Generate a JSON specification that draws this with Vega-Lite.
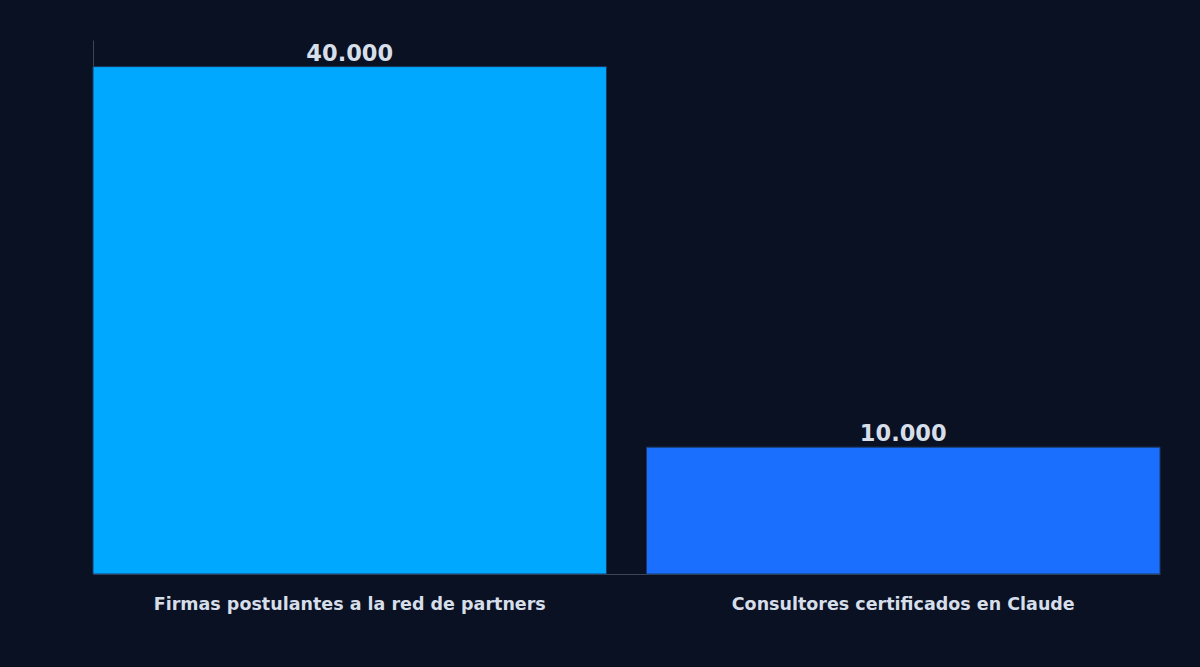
{
  "$schema": "https://vega.github.io/schema/vega-lite/v6.json",
  "width": 1067,
  "height": 534,
  "autosize": {"type": "none"},
  "padding": {"left": 93, "top": 40, "right": 40, "bottom": 93},
  "background": "#0a1122",
  "config": {
    "view": {"stroke": null},
    "locale": {"number": {"decimal": ",", "thousands": ".", "grouping": [3], "currency": ["", " €"]}}
  },
  "data": {"values": [
    {"categoria": "Firmas postulantes a la red de partners", "valor": 40000, "color": "#00a8ff"},
    {"categoria": "Consultores certificados en Claude", "valor": 10000, "color": "#1a6fff"}
  ]},
  "encoding": {
    "x": {"field": "categoria", "type": "nominal", "sort": null,
      "scale": {"paddingInner": 0.0723, "paddingOuter": 0},
      "axis": {"title": null, "labelAngle": 0, "labelFont": "DejaVu Sans", "labelFontSize": 17.5, "labelFontWeight": "bold",
        "labelColor": "#d6deea", "labelPadding": 21, "labelLimit": 0, "ticks": false, "domainColor": "#3b4659", "domainWidth": 1}},
    "y": {"field": "valor", "type": "quantitative", "scale": {"domain": [0, 42100], "nice": false},
      "axis": {"title": null, "labels": false, "ticks": false, "grid": false, "domainColor": "#3b4659", "domainWidth": 1}}
  },
  "layer": [
    {"mark": {"type": "bar", "stroke": "#1b3a66", "strokeWidth": 1},
     "encoding": {"color": {"field": "color", "type": "nominal", "scale": null}}},
    {"mark": {"type": "text", "baseline": "alphabetic", "dy": -6, "font": "DejaVu Sans", "fontSize": 22.5, "fontWeight": "bold", "color": "#d6deea"},
     "encoding": {"text": {"field": "valor", "type": "quantitative", "format": ",.0f"}}}
  ]
}
